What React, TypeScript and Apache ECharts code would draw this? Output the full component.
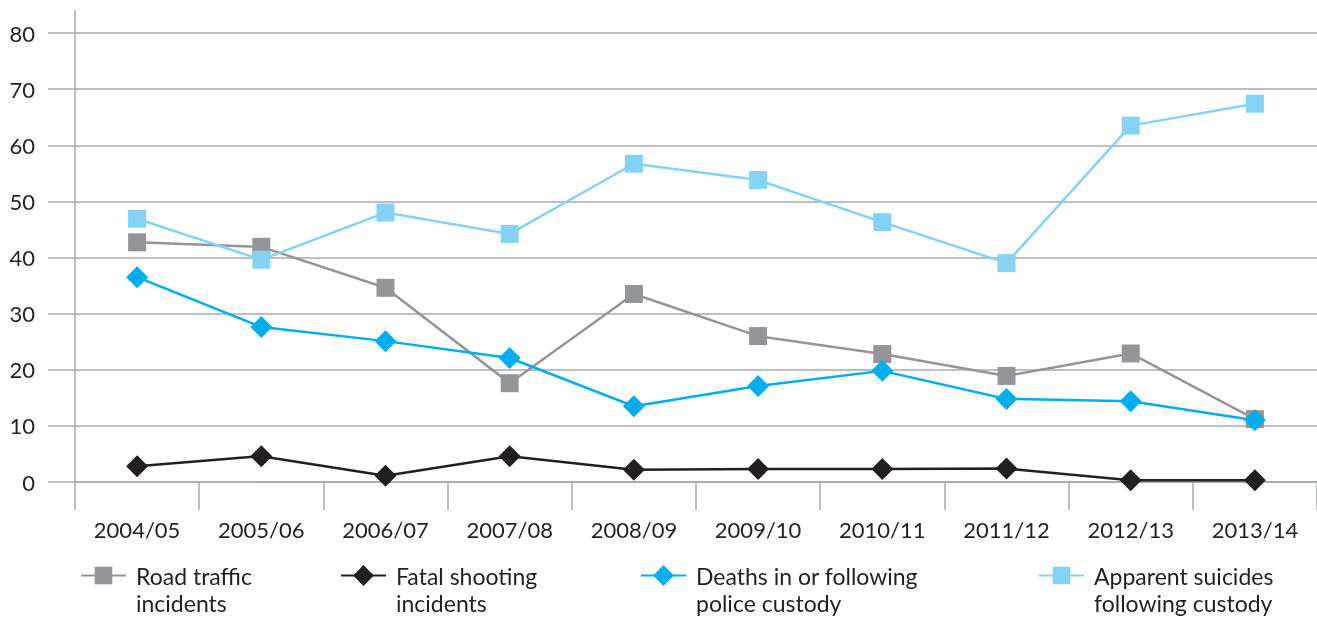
import React, { useEffect, useRef } from "react";
import * as echarts from "echarts";

const categories = ["2004/05", "2005/06", "2006/07", "2007/08", "2008/09", "2009/10", "2010/11", "2011/12", "2012/13", "2013/14"];
const roadTraffic = [42.7, 41.9, 34.6, 17.6, 33.5, 26.0, 22.8, 18.9, 22.9, 11.2];
const fatalShooting = [2.8, 4.6, 1.1, 4.6, 2.2, 2.3, 2.3, 2.4, 0.3, 0.3];
const custodyDeaths = [36.5, 27.6, 25.1, 22.1, 13.5, 17.1, 19.8, 14.8, 14.4, 11.0];
const apparentSuicides = [46.9, 39.6, 48.0, 44.2, 56.7, 53.8, 46.3, 39.0, 63.5, 67.4];
const seriesNames = ["Road traffic\nincidents", "Fatal shooting\nincidents", "Deaths in or following\npolice custody", "Apparent suicides\nfollowing custody"];
const yTicks = { min: 0, max: 80, interval: 10 };

const FONT = "Lato";
const GRID = "#a7a9ac";

export default function App() {
  const ref = useRef<HTMLDivElement>(null);
  useEffect(() => {
    if (!ref.current) return;
    const chart = echarts.init(ref.current, null, { renderer: "svg" });
    const colors = ["#939598", "#231f20", "#00aeef", "#84d3f5"];
    const symbols = ["rect", "diamond", "diamond", "rect"];
    const sizes = [18, 22, 22, 18];
    const legendHeights = [22, 26, 26, 22];
    const data = [roadTraffic, fatalShooting, custodyDeaths, apparentSuicides];
    const legendLefts = [80, 340, 640, 1038];
    chart.setOption({
      animation: false,
      textStyle: { fontFamily: FONT },
      grid: { left: 75, right: 0, top: 33, bottom: 135, containLabel: false },
      xAxis: {
        type: "category",
        data: categories,
        boundaryGap: true,
        axisLine: { show: true, lineStyle: { color: GRID, width: 1.5 } },
        axisTick: { show: true, length: 28, interval: 0, lineStyle: { color: GRID, width: 1.5 } },
        axisLabel: { margin: 36, fontSize: 22, color: "#231f20", fontFamily: FONT, interval: 0 },
        splitLine: { show: false },
      },
      yAxis: {
        type: "value",
        min: yTicks.min,
        max: yTicks.max,
        interval: yTicks.interval,
        axisLine: { show: true, lineStyle: { color: GRID, width: 1.5 } },
        axisTick: { show: true, length: 27, lineStyle: { color: GRID, width: 1.5 } },
        axisLabel: { margin: 40, fontSize: 22, color: "#231f20", fontFamily: FONT },
        splitLine: { show: true, lineStyle: { color: GRID, width: 1.5 } },
      },
      legend: seriesNames.map((n, i) => ({
        data: [n],
        left: legendLefts[i],
        top: 577 - 42,
        padding: 0,
        itemWidth: 45,
        itemHeight: legendHeights[i],
        formatter: (name: string) => "{s| }\n" + name,
        textStyle: {
          fontFamily: FONT, fontSize: 23, color: "#231f20", lineHeight: 27, padding: [0, 0, 0, 5],
          rich: { s: { fontSize: 23, lineHeight: 27 } },
        },
      })),
      graphic: [
        { type: "line", shape: { x1: 75, y1: 10, x2: 75, y2: 33 }, style: { stroke: GRID, lineWidth: 1.5 } },
      ],
      series: seriesNames.map((n, i) => ({
        name: n,
        type: "line",
        data: data[i],
        symbol: symbols[i],
        symbolSize: sizes[i],
        showAllSymbol: true,
        lineStyle: { color: colors[i], width: 2.5 },
        itemStyle: { color: colors[i] },
        z: 2 + i,
      })),
    });
    return () => chart.dispose();
  }, []);
  return <div ref={ref} style={{ position: "fixed", left: 0, top: 0, width: 1317, height: 617 }} />;
}
